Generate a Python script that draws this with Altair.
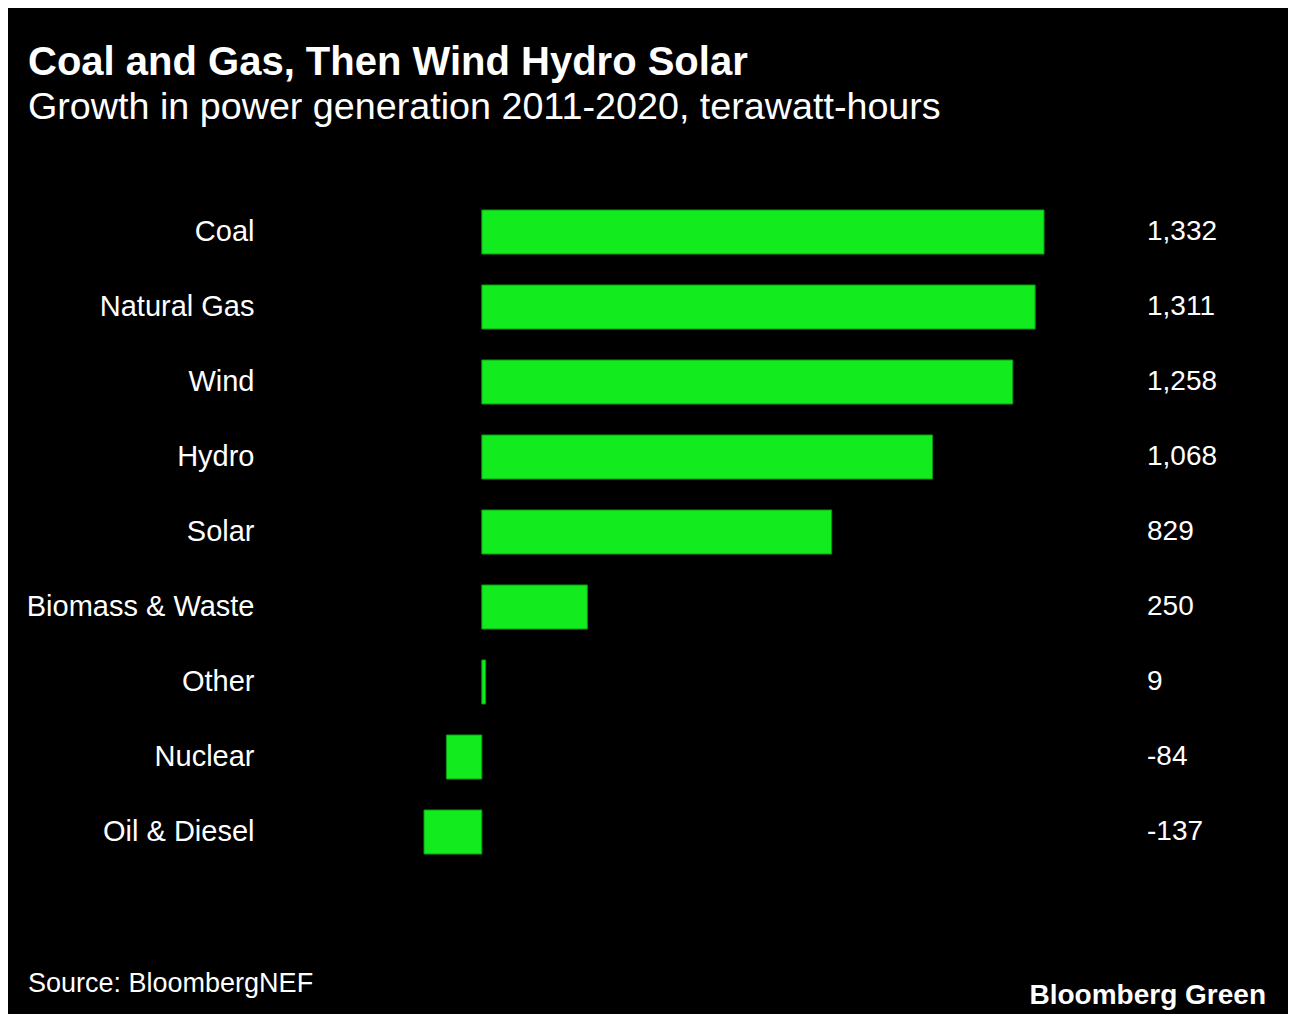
import altair as alt
import pandas as pd

categories = ["Coal", "Natural Gas", "Wind", "Hydro", "Solar", "Biomass & Waste", "Other", "Nuclear", "Oil & Diesel"]
values = [1332, 1311, 1258, 1068, 829, 250, 9, -84, -137]

df = pd.DataFrame({"category": categories, "value": values})
df["label"] = [f"{v:,}" for v in values]

FONT = "Liberation Sans"
GREEN = "#12eb1e"

y_enc = alt.Y(
    "category:N",
    sort=categories,
    scale=alt.Scale(paddingInner=0.413, paddingOuter=0.2065),
    axis=alt.Axis(
        title=None, domain=False, ticks=False, labelPadding=170, labelLimit=400,
        labelColor="white", labelFont=FONT, labelFontSize=29, labelAlign="right",
    ),
)

bars = alt.Chart(df).mark_bar(color=GREEN, stroke="#0a9a12", strokeWidth=1).encode(
    x=alt.X("value:Q", scale=alt.Scale(domain=[-137, 1332], nice=False, zero=True), axis=None),
    y=y_enc,
)

texts = alt.Chart(df).mark_text(
    align="left", baseline="middle", color="white", font=FONT, fontSize=28
).encode(
    x=alt.value(723),
    y=alt.Y("category:N", sort=categories),
    text="label:N",
)

source = alt.Chart(pd.DataFrame({"t": ["Source: BloombergNEF"]})).mark_text(
    align="left", baseline="alphabetic", color="white", font=FONT, fontSize=27
).encode(x=alt.value(-396), y=alt.value(797), text="t:N")

brand = alt.Chart(pd.DataFrame({"t": ["Bloomberg Green"]})).mark_text(
    align="right", baseline="alphabetic", color="white", font=FONT, fontSize=28, fontWeight="bold"
).encode(x=alt.value(842), y=alt.value(809), text="t:N")

chart = alt.layer(bars, texts, source, brand).properties(
    width=620,
    height=675,
    autosize=alt.AutoSizeParams(type="none"),
    padding={"left": 416, "top": 186.5, "right": 244, "bottom": 144.5},
    background="black",
    title=alt.TitleParams(
        text="Coal and Gas, Then Wind Hydro Solar",
        subtitle="Growth in power generation 2011-2020, terawatt-hours",
        anchor="start",
        frame="group",
        dx=-396,
        offset=68,
        color="white",
        subtitleColor="white",
        font=FONT,
        subtitleFont=FONT,
        fontSize=40,
        fontWeight="bold",
        subtitleFontSize=37.7,
        subtitlePadding=6,
    ),
).configure_view(stroke=None)

chart.save("out.html", embed_options={"renderer": "svg", "actions": False})
